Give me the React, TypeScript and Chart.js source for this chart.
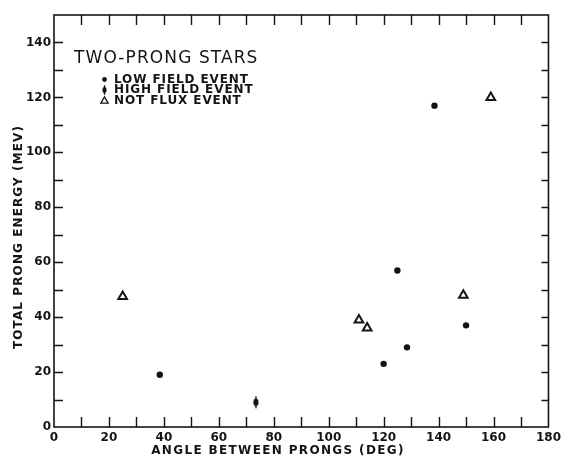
import React, { useEffect, useRef } from "react";
import { Chart, registerables } from "chart.js";

Chart.register(...registerables);

const INK = "#141414";

const lowFieldX = [38.5, 120, 125, 128.5, 138.5, 150];
const lowFieldY = [19, 23, 57, 29, 117, 37];
const highFieldX = [73.5];
const highFieldY = [9];
const notFluxX = [25, 111, 114, 149, 159];
const notFluxY = [47.5, 39, 36, 48, 120];

const seriesLabels = ["LOW FIELD EVENT", "HIGH FIELD EVENT", "NOT FLUX EVENT"];
const chartTitle = "TWO-PRONG STARS";
const xTitle = "ANGLE BETWEEN PRONGS (DEG)";
const yTitle = "TOTAL PRONG ENERGY (MEV)";

const xTickLabels = [0, 20, 40, 60, 80, 100, 120, 140, 160, 180];
const xMinorTicks = [10, 20, 30, 40, 50, 60, 70, 80, 90, 100, 110, 120, 130, 140, 150, 160, 170];
const yTickLabels = [0, 20, 40, 60, 80, 100, 120, 140];
const yMinorTicks = [10, 20, 30, 40, 50, 60, 70, 80, 90, 100, 110, 120, 130, 140];

function toPoints(xs: number[], ys: number[]) {
  return xs.map((x, i) => ({ x, y: ys[i] }));
}

function drawHighMarker(ctx: CanvasRenderingContext2D, cx: number, cy: number, s: number) {
  ctx.fillStyle = INK;
  ctx.strokeStyle = INK;
  ctx.lineWidth = 1.3;
  ctx.beginPath();
  ctx.moveTo(cx, cy - 6 * s);
  ctx.lineTo(cx, cy + 6 * s);
  ctx.stroke();
  ctx.beginPath();
  ctx.ellipse(cx, cy, 2.6 * s, 3.8 * s, 0, 0, Math.PI * 2);
  ctx.fill();
}

function makeHighCanvas() {
  const c = document.createElement("canvas");
  c.width = 10;
  c.height = 16;
  const ctx = c.getContext("2d")!;
  drawHighMarker(ctx, 5, 8, 1);
  return c;
}

function drawTriangle(ctx: CanvasRenderingContext2D, cx: number, cy: number, r: number, lw: number) {
  ctx.beginPath();
  ctx.moveTo(cx, cy - r);
  ctx.lineTo(cx + r * 0.87, cy + r * 0.5);
  ctx.lineTo(cx - r * 0.87, cy + r * 0.5);
  ctx.closePath();
  ctx.fillStyle = "#fff";
  ctx.fill();
  ctx.lineWidth = lw;
  ctx.strokeStyle = INK;
  ctx.stroke();
}

const framePlugin = {
  id: "frameAndText",
  beforeDatasetsDraw(chart: any) {
    const { ctx, chartArea: a, scales } = chart;
    const x = scales.x;
    const y = scales.y;
    ctx.save();
    ctx.strokeStyle = INK;
    ctx.lineWidth = 1.6;
    ctx.strokeRect(a.left, a.top, a.right - a.left, a.bottom - a.top);
    ctx.lineWidth = 1.4;
    ctx.beginPath();
    for (const v of xMinorTicks) {
      const px = Math.round(x.getPixelForValue(v)) + 0.5;
      ctx.moveTo(px, a.bottom);
      ctx.lineTo(px, a.bottom - 10);
      ctx.moveTo(px, a.top);
      ctx.lineTo(px, a.top + 10);
    }
    for (const v of yMinorTicks) {
      const py = Math.round(y.getPixelForValue(v)) + 0.5;
      ctx.moveTo(a.right, py);
      ctx.lineTo(a.right - 7, py);
      ctx.moveTo(a.left, py);
      ctx.lineTo(a.left + 9, py);
    }
    ctx.stroke();
    ctx.restore();
  },
  afterDraw(chart: any) {
    const { ctx } = chart;
    ctx.save();
    ctx.fillStyle = INK;
    ctx.textBaseline = "middle";
    // legend title
    ctx.font = "17px 'DejaVu Sans'";
    (ctx as any).letterSpacing = "1.1px";
    ctx.textAlign = "left";
    ctx.fillText(chartTitle, 74, 59);
    // legend entries
    ctx.font = "bold 12px 'DejaVu Sans'";
    (ctx as any).letterSpacing = "0.9px";
    const rows = [79.5, 90, 100.5];
    const sx = 104.5;
    seriesLabels.forEach((lab, i) => {
      ctx.fillStyle = INK;
      ctx.fillText(lab, 114, rows[i]);
    });
    ctx.beginPath();
    ctx.arc(sx, rows[0], 2.4, 0, Math.PI * 2);
    ctx.fill();
    drawHighMarker(ctx, sx, rows[1], 0.8);
    drawTriangle(ctx, sx, rows[2] + 0.5, 4.2, 1.3);
    // axis titles
    ctx.fillStyle = INK;
    ctx.font = "bold 12px 'DejaVu Sans'";
    (ctx as any).letterSpacing = "1.35px";
    ctx.textAlign = "center";
    ctx.fillText(xTitle, 278, 451);
    ctx.save();
    ctx.translate(19, 237);
    ctx.rotate(-Math.PI / 2);
    (ctx as any).letterSpacing = "1.1px";
    ctx.fillText(yTitle, 0, 0);
    ctx.restore();
    ctx.restore();
  },
};

export default function App() {
  const ref = useRef<HTMLCanvasElement | null>(null);
  useEffect(() => {
    if (!ref.current) return;
    const highImg = makeHighCanvas();
    const chart = new Chart(ref.current, {
      type: "scatter",
      data: {
        datasets: [
          {
            label: seriesLabels[0],
            data: toPoints(lowFieldX, lowFieldY),
            pointStyle: "circle",
            pointRadius: 3.2,
            backgroundColor: INK,
            borderColor: INK,
            borderWidth: 0,
          },
          {
            label: seriesLabels[1],
            data: toPoints(highFieldX, highFieldY),
            pointStyle: highImg as any,
            pointRadius: 6,
            backgroundColor: INK,
            borderColor: INK,
          },
          {
            label: seriesLabels[2],
            data: toPoints(notFluxX, notFluxY),
            pointStyle: "triangle",
            pointRadius: 5,
            borderWidth: 2,
            backgroundColor: "#fff",
            borderColor: INK,
          },
        ],
      },
      options: {
        responsive: false,
        animation: false,
        events: [],
        layout: { padding: { left: 0, right: 12, top: 15, bottom: 0 } },
        plugins: {
          legend: { display: false },
          tooltip: { enabled: false },
          title: { display: false },
        },
        scales: {
          x: {
            type: "linear",
            min: 0,
            max: 180,
            afterBuildTicks: (s: any) => {
              s.ticks = xTickLabels.map((v) => ({ value: v }));
            },
            afterFit: (s: any) => {
              s.height = 37;
            },
            grid: { display: false, drawTicks: false },
            border: { display: false },
            ticks: {
              padding: 4,
              maxRotation: 0,
              autoSkip: false,
              color: INK,
              font: { family: "'DejaVu Sans'", size: 12, weight: "bold" },
            },
          },
          y: {
            type: "linear",
            min: 0,
            max: 150,
            afterBuildTicks: (s: any) => {
              s.ticks = yTickLabels.map((v) => ({ value: v }));
            },
            afterFit: (s: any) => {
              s.width = 54;
            },
            grid: { display: false, drawTicks: false },
            border: { display: false },
            ticks: {
              padding: 3,
              autoSkip: false,
              color: INK,
              font: { family: "'DejaVu Sans'", size: 12, weight: "bold" },
            },
          },
        },
      },
      plugins: [framePlugin],
    });
    return () => chart.destroy();
  }, []);
  return (
    <div style={{ position: "absolute", left: 0, top: 0, width: 565, height: 464, background: "#fff" }}>
      <canvas ref={ref} width={565} height={464} />
    </div>
  );
}
